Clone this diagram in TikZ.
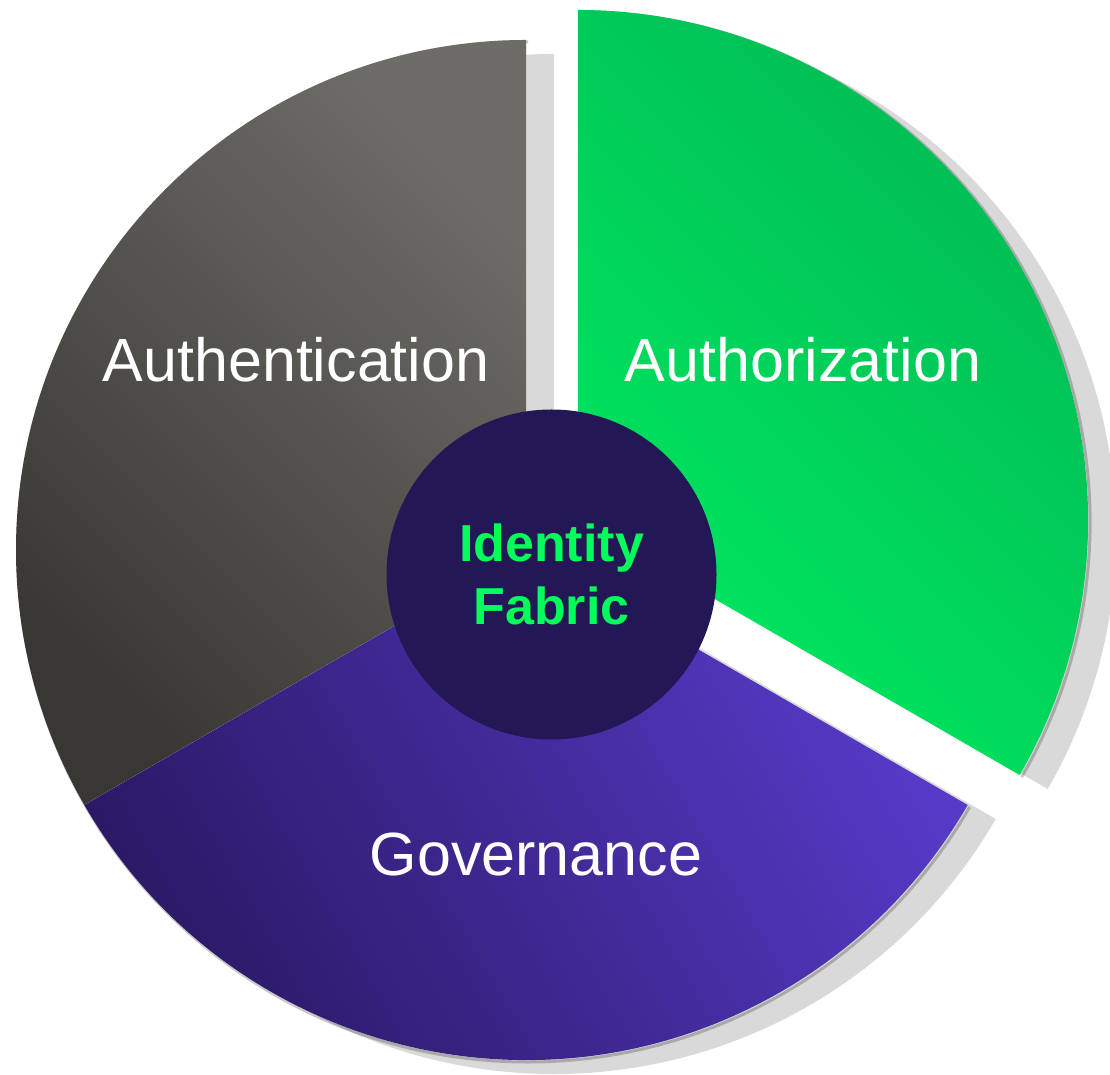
\documentclass[tikz,border=0pt]{standalone}
\usepackage{fontspec}
\setmainfont{Liberation Sans}
\definecolor{shadowgray}{HTML}{D9D9D9}
\definecolor{authnlight}{HTML}{6D6C66}
\definecolor{authndark}{HTML}{383733}
\definecolor{authzlight}{HTML}{00E85F}
\definecolor{authzdark}{HTML}{00B654}
\definecolor{govlight}{HTML}{573AC8}
\definecolor{govdark}{HTML}{2A1863}
\definecolor{hubblue}{HTML}{231756}
\definecolor{idgreen}{HTML}{00FF5A}
\begin{document}
\begin{tikzpicture}[x=1pt,y=1pt,lbl/.style={anchor=base,text=white,font=\fontsize{61}{70}\selectfont},shade/.style={fill=shadowgray},rim/.style={draw=black,draw opacity=0.22,line width=3pt},hub/.style={shape=circle,fill=hubblue,minimum size=330pt,inner sep=0pt,text=idgreen,align=center,font=\bfseries\fontsize{52}{63}\selectfont}]
\def\R{510};
\def\sx{28};
\def\sy{-14};

\useasboundingbox (0,0) rectangle (1110,1074);
\coordinate (O) at (526,524);
\coordinate (Oz) at (578,554);

% drop shadows
\fill[shade] ([shift={(\sx,\sy)}]O) -- ++(90:\R) arc[start angle=90,end angle=330,radius=\R] -- cycle;
\fill[shade] ([shift={(\sx,\sy)}]Oz) -- ++(-30:\R) arc[start angle=-30,end angle=90,radius=\R] -- cycle;
\draw[rim] ([shift={(2,-2)}]O) ++(90:\R) arc[start angle=90,end angle=330,radius=\R];
\draw[rim] ([shift={(2,-2)}]Oz) ++(-30:\R) arc[start angle=-30,end angle=90,radius=\R];

% slices
\shade[top color=authnlight,bottom color=authndark,shading angle=-45] (O) -- ++(90:\R) arc[start angle=90,end angle=210,radius=\R] -- cycle;
\shade[top color=govlight,bottom color=govdark,shading angle=-60] (O) -- ++(210:\R) arc[start angle=210,end angle=330,radius=\R] -- cycle;
\shade[top color=authzdark,bottom color=authzlight,shading angle=-45] (Oz) -- ++(-30:\R) arc[start angle=-30,end angle=90,radius=\R] -- cycle;

\node[lbl] (authn) at (296,692) {Authentication};
\node[lbl] (authz) at (803,692) {Authorization};
\node[lbl] (gov) at (536,199) {Governance};

\node[hub] (fabric) at (551.5,499.5) {Identity\\Fabric};
\end{tikzpicture}
\end{document}
